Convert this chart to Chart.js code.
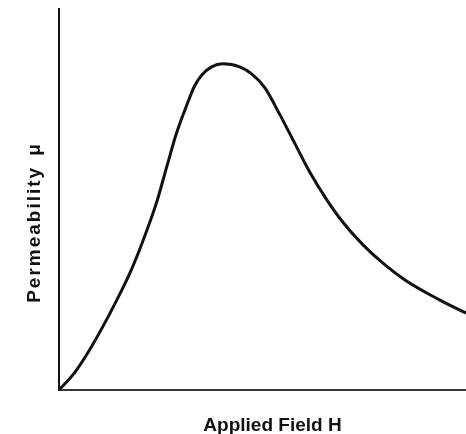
<!DOCTYPE html>
<html>
<head>
<meta charset="utf-8">
<script src="https://cdn.jsdelivr.net/npm/chart.js@4.4.0/dist/chart.umd.min.js"></script>
<style>
  html, body { margin: 0; padding: 0; background: #fff; }
</style>
</head>
<body>
<canvas id="myChart" width="466" height="434"></canvas>
<script>
// applied field H (arbitrary units) and permeability
var fieldH = [0, 0.38, 0.75, 1.07, 1.41, 1.73, 2.05, 2.40, 2.64, 2.89, 3.14, 3.33, 3.51, 3.75, 4.02,
    4.44, 4.74, 5.06, 5.42, 5.79, 6.16, 6.58, 6.97, 7.47, 7.96, 8.50, 9.36, 10];
var permeability = [0, 0.45, 1.05, 1.65, 2.34, 3.04, 3.88, 4.93, 5.83, 6.75, 7.48, 7.98, 8.27, 8.48, 8.56,
    8.48, 8.29, 7.93, 7.24, 6.48, 5.72, 4.99, 4.41, 3.81, 3.33, 2.89, 2.36, 2.02];
var xTitle = 'Applied Field H';
var yTitle = ['Permeability', 'μ'];

var points = fieldH.map(function (h, i) {
    return { x: h, y: permeability[i] };
});

// axis titles drawn by hand, the original has them off-centre and letter spaced
var axisTitles = {
    id: 'axisTitles',
    afterDraw: function (chart) {
        var c = chart.ctx;
        var area = chart.chartArea;
        c.save();
        c.fillStyle = '#111';
        c.font = 'bold 19px "Liberation Sans", Arial, sans-serif';
        c.textAlign = 'center';
        c.textBaseline = 'alphabetic';
        c.fillText(xTitle, (area.left + area.right) / 2 + 10, chart.height - 3);

        c.translate(40, (area.top + area.bottom) / 2 + 23);
        c.rotate(-Math.PI / 2);
        c.letterSpacing = '2px';
        c.textAlign = 'left';
        var w1 = c.measureText(yTitle[0]).width;
        var w2 = c.measureText(yTitle[1]).width;
        var gap = 10;
        var start = -(w1 + gap + w2) / 2;
        c.fillText(yTitle[0], start, 0);
        c.fillText(yTitle[1], start + w1 + gap, 0);
        c.restore();
    }
};

var ctx = document.getElementById('myChart').getContext('2d');
var myChart = new Chart(ctx, {
    type: 'line',
    data: {
        datasets: [{
            label: 'Permeability',
            data: points,
            borderColor: '#111111',
            borderWidth: 3,
            pointRadius: 0,
            fill: false,
            cubicInterpolationMode: 'monotone'
        }]
    },
    options: {
        responsive: false,
        animation: false,
        layout: {
            padding: { top: 9, left: 0, right: 0, bottom: 0 }
        },
        plugins: {
            legend: { display: false },
            tooltip: { enabled: false }
        },
        scales: {
            x: {
                type: 'linear',
                min: 0,
                max: 10,
                ticks: { display: false },
                grid: { display: true, drawOnChartArea: false, drawTicks: false },
                border: { color: '#333333', width: 2 },
                afterFit: function (scale) { scale.height = 44; }
            },
            y: {
                type: 'linear',
                min: 0,
                max: 10,
                ticks: { display: false },
                grid: { display: true, drawOnChartArea: false, drawTicks: false },
                border: { color: '#111111', width: 2 },
                afterFit: function (scale) { scale.width = 59; }
            }
        }
    },
    plugins: [axisTitles]
});
</script>
</body>
</html>
